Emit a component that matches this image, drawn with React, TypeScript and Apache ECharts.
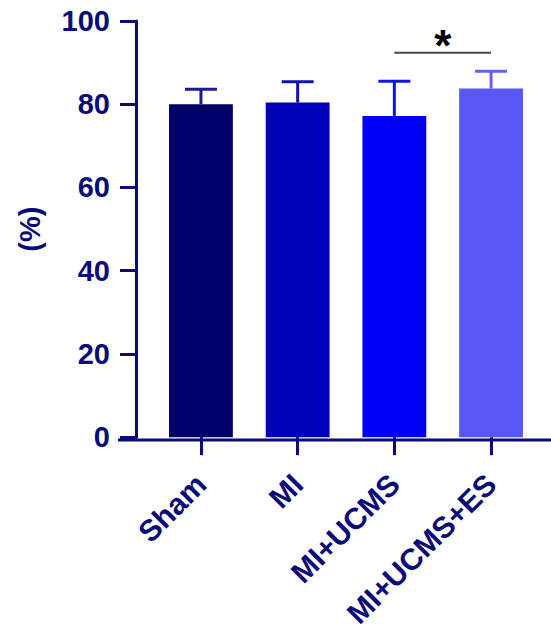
import React, { useEffect, useRef } from "react";
import * as echarts from "echarts";

const categories = ["Sham", "MI", "MI+UCMS", "MI+UCMS+ES"];
const means = [80.0, 80.4, 77.2, 83.8];
const errUpper = [83.6, 85.4, 85.5, 87.9];
const barColors = ["#000068", "#0000b8", "#0000fa", "#5757f6"];
const errColors = ["#1a1a96", "#1010b4", "#1414e0", "#6464f2"];
const yTicks = [0, 20, 40, 60, 80, 100];
// comparison bracket: [fromIndex, toIndex, yValue, label]
const comparisons: [number, number, number, string][] = [[2, 3, 92.4, "*"]];

const NAVY = "#0a0a78";
const FONT = "Liberation Sans, Arial, sans-serif";

export default function App() {
  const ref = useRef<HTMLDivElement>(null);
  useEffect(() => {
    if (!ref.current) return;
    const chart = echarts.init(ref.current, undefined, { renderer: "svg" });
    const gridLeft = 152.6;
    const gridRight = 11.6;
    const gridTop = 21;
    const gridBottom = 191;
    chart.setOption({
      animation: false,
      backgroundColor: "#ffffff",
      grid: { left: gridLeft, right: gridRight, top: gridTop, bottom: gridBottom },
      xAxis: {
        type: "category",
        data: categories,
        boundaryGap: true,
        axisLine: { show: false },
        axisTick: { show: true, alignWithLabel: true, length: 18, lineStyle: { color: NAVY, width: 3 } },
        axisLabel: {
          rotate: 45,
          interval: 0,
          margin: 42,
          color: NAVY,
          fontFamily: FONT,
          fontWeight: "bold",
          fontSize: 30,
        },
      },
      yAxis: {
        type: "value",
        min: yTicks[0],
        max: yTicks[yTicks.length - 1],
        interval: 20,
        offset: 16.6,
        name: "(%)",
        nameLocation: "middle",
        nameRotate: 90,
        nameGap: 92,
        nameTextStyle: { color: NAVY, fontFamily: FONT, fontWeight: "bold", fontSize: 29 },
        axisLine: { show: true, lineStyle: { color: NAVY, width: 3 } },
        axisTick: { show: true, length: 16, lineStyle: { color: NAVY, width: 3 } },
        splitLine: { show: false },
        axisLabel: {
          margin: 26,
          color: NAVY,
          fontFamily: FONT,
          fontWeight: "bold",
          fontSize: 29,
        },
      },
      graphic: [
        {
          type: "line",
          z: 10,
          shape: { x1: 118, y1: 440, x2: 551, y2: 440 },
          style: { stroke: NAVY, lineWidth: 3 },
        },
      ],
      series: [
        {
          type: "bar",
          data: means.map((v, i) => ({ value: v, itemStyle: { color: barColors[i] } })),
          barCategoryGap: "34%",
          z: 2,
        },
        {
          type: "custom",
          z: 3,
          data: means.map((m, i) => [i, m, errUpper[i]]),
          renderItem: (params: any, api: any) => {
            const i = api.value(0);
            const base = api.coord([i, api.value(1)]);
            const top = api.coord([i, api.value(2)]);
            const capHalf = 16;
            const c = errColors[i];
            return {
              type: "group",
              children: [
                { type: "line", shape: { x1: base[0], y1: base[1], x2: top[0], y2: top[1] }, style: { stroke: c, lineWidth: 3 } },
                { type: "line", shape: { x1: top[0] - capHalf, y1: top[1], x2: top[0] + capHalf, y2: top[1] }, style: { stroke: c, lineWidth: 3 } },
              ],
            };
          },
        },
        {
          type: "custom",
          z: 4,
          data: comparisons.map((c) => [c[0], c[1], c[2]]),
          renderItem: (params: any, api: any) => {
            const a = api.coord([api.value(0), api.value(2)]);
            const b = api.coord([api.value(1), api.value(2)]);
            const label = comparisons[params.dataIndex][3];
            return {
              type: "group",
              children: [
                { type: "line", shape: { x1: a[0], y1: a[1], x2: b[0], y2: b[1] }, style: { stroke: "#4a4a4a", lineWidth: 2 } },
                {
                  type: "text",
                  x: (a[0] + b[0]) / 2,
                  y: a[1] - 7,
                  style: {
                    text: label,
                    fill: "#000000",
                    font: "bold 44px " + FONT,
                    align: "center",
                    verticalAlign: "middle",
                  },
                },
              ],
            };
          },
        },
      ],
    });
    return () => chart.dispose();
  }, []);
  return <div ref={ref} style={{ width: 551, height: 631, position: "absolute", left: 0, top: 0 }} />;
}
